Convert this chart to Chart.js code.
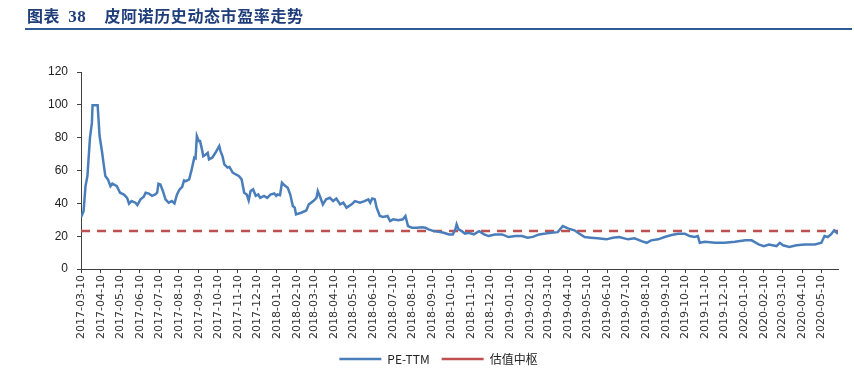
<!DOCTYPE html>
<html>
<head>
<meta charset="utf-8">
<script src="https://cdn.jsdelivr.net/npm/chart.js@4.4.1/dist/chart.umd.min.js"></script>
<style>
  html, body { margin: 0; padding: 0; background: #fff; }
  #wrap { position: relative; width: 854px; height: 380px; }
  #title {
    position: absolute; left: 25px; top: 4px; width: 827px; height: 24px;
    border-bottom: 2px solid #2E5A96;
    font-family: "Noto Sans CJK SC", sans-serif; font-weight: bold; font-size: 16px;
    color: #1F3D7A; line-height: 22px; letter-spacing: 0.6px;
  }
  #title .num { font-family: "Liberation Serif", serif; font-size: 17px; margin-left: 8px; margin-right: 18px; }
  #title span.t { margin-left: 2px; }
  #chart { position: absolute; left: 0; top: 0; }
</style>
</head>
<body>
<div id="wrap">
  <canvas id="chart" width="854" height="380"></canvas>
  <div id="title"><span class="t">图表</span><span class="num">38</span>皮阿诺历史动态市盈率走势</div>
</div>
<script>
// 数据
const baseDate = '2017-03-10';
const peDates = [
  '2017-03-10','2017-03-14','2017-03-17','2017-03-20','2017-03-24','2017-03-27','2017-03-28','2017-04-05',
  '2017-04-08','2017-04-12','2017-04-14','2017-04-17','2017-04-21','2017-04-25','2017-04-28','2017-05-05',
  '2017-05-10','2017-05-16','2017-05-21','2017-05-24','2017-05-28','2017-06-03','2017-06-06','2017-06-11',
  '2017-06-16','2017-06-19','2017-06-24','2017-06-29','2017-07-04','2017-07-07','2017-07-09','2017-07-12',
  '2017-07-16','2017-07-20','2017-07-25','2017-07-30','2017-08-03','2017-08-07','2017-08-11','2017-08-15',
  '2017-08-18','2017-08-21','2017-08-26','2017-08-30','2017-09-03','2017-09-05','2017-09-07','2017-09-10',
  '2017-09-12','2017-09-15','2017-09-17','2017-09-21','2017-09-24','2017-09-26','2017-10-01','2017-10-06',
  '2017-10-12','2017-10-14','2017-10-17','2017-10-20','2017-10-25','2017-10-28','2017-11-02','2017-11-07',
  '2017-11-12','2017-11-16','2017-11-20','2017-11-24','2017-11-27','2017-11-30','2017-12-04','2017-12-08',
  '2017-12-12','2017-12-15','2017-12-21','2017-12-26','2017-12-31','2018-01-06','2018-01-09','2018-01-11',
  '2018-01-15','2018-01-18','2018-01-22','2018-01-27','2018-01-31','2018-02-04','2018-02-07','2018-02-09',
  '2018-02-17','2018-02-25','2018-03-01','2018-03-08','2018-03-13','2018-03-15','2018-03-18','2018-03-23',
  '2018-03-28','2018-04-03','2018-04-08','2018-04-13','2018-04-19','2018-04-24','2018-04-29','2018-05-07',
  '2018-05-12','2018-05-20','2018-05-27','2018-06-02','2018-06-05','2018-06-08','2018-06-12','2018-06-15',
  '2018-06-20','2018-06-25','2018-07-02','2018-07-06','2018-07-11','2018-07-19','2018-07-26','2018-07-30',
  '2018-08-03','2018-08-09','2018-08-17','2018-08-25','2018-08-30','2018-09-04','2018-09-12','2018-09-20',
  '2018-09-28','2018-10-06','2018-10-12','2018-10-16','2018-10-18','2018-10-21','2018-10-26','2018-10-31',
  '2018-11-06','2018-11-14','2018-11-22','2018-11-30','2018-12-07','2018-12-17','2018-12-28','2019-01-07',
  '2019-01-18','2019-01-28','2019-02-06','2019-02-14','2019-02-24','2019-03-06','2019-03-14','2019-03-25',
  '2019-04-02','2019-04-10','2019-04-20','2019-04-28','2019-05-06','2019-05-16','2019-05-26','2019-06-09',
  '2019-06-19','2019-06-29','2019-07-13','2019-07-23','2019-08-03','2019-08-11','2019-08-18','2019-08-29',
  '2019-09-08','2019-09-19','2019-09-29','2019-10-10','2019-10-17','2019-10-25','2019-10-30','2019-11-02',
  '2019-11-10','2019-11-26','2019-12-11','2019-12-27','2020-01-12','2020-01-22','2020-02-02','2020-02-10',
  '2020-02-18','2020-03-01','2020-03-06','2020-03-11','2020-03-21','2020-04-01','2020-04-14','2020-04-30',
  '2020-05-10','2020-05-15','2020-05-20','2020-05-25','2020-05-30','2020-06-05'
];
const peValues = [
  31.5,35.3,50.5,56.6,80,89,99.7,99.7,
  81,71,65,56.6,54.6,50.5,52,50.5,
  46.5,45.4,43.4,39.8,41.4,40.4,39,42.5,
  44,46.5,46,44.6,45.4,46.5,52,51.5,
  47.5,42.5,40.4,41.4,40,45.4,48.5,50,
  54,53.5,54.6,60.7,67.8,67.4,81,78,
  78,72.9,68.8,69.8,70.8,66.8,67.8,70.8,
  74.9,71.8,68.8,63.8,61.8,62.2,58.7,57.6,
  56.6,54.6,46.5,45.4,41.8,47.5,48.5,44.6,
  45.4,43.4,44.6,43.4,45.4,46,44.6,45.4,
  45,52.6,51,49.5,45.4,38.4,37.4,33.3,
  34.3,35.7,39.4,41.4,43.4,47.5,44.6,39.4,
  42.5,43.4,41.4,42.9,39.4,40.4,37.4,39.4,
  41.4,40.4,41.4,42.5,40.4,43,42.5,37.4,
  32.3,31.7,32.3,29.2,30.3,29.7,30.3,32.3,
  26.2,25.2,25.2,25.5,25.2,24.2,23.1,22.7,
  22.1,21.1,21.1,24.2,27.2,24.2,23.1,21.6,
  22.1,21.1,23.1,21.1,20.1,21.1,21.1,19.5,
  20.1,20.1,19.1,19.6,21.1,21.6,22.1,22.5,
  26.2,24.8,23.6,21.5,19.5,19.1,18.7,18.1,
  19.1,19.5,18.1,18.7,17,16,17.5,18.1,
  19.5,20.7,21.5,21.5,20.1,19.5,20.1,16,
  16.6,16,16,16.6,17.5,17.5,15,14,
  15,14,16,14.5,13.4,14.5,15,15,
  16,20.1,19.5,21.1,23.6,21.5
];
const centerValue = 23.2;
const tickLabels = [
  '2017-03-10','2017-04-10','2017-05-10','2017-06-10','2017-07-10','2017-08-10','2017-09-10','2017-10-10',
  '2017-11-10','2017-12-10','2018-01-10','2018-02-10','2018-03-10','2018-04-10','2018-05-10','2018-06-10',
  '2018-07-10','2018-08-10','2018-09-10','2018-10-10','2018-11-10','2018-12-10','2019-01-10','2019-02-10',
  '2019-03-10','2019-04-10','2019-05-10','2019-06-10','2019-07-10','2019-08-10','2019-09-10','2019-10-10',
  '2019-11-10','2019-12-10','2020-01-10','2020-02-10','2020-03-10','2020-04-10','2020-05-10'
];

function dayOffset(d) {
  return (Date.parse(d) - Date.parse(baseDate)) / 86400000;
}

const pePoints = peDates.map((d, i) => ({ x: dayOffset(d), y: peValues[i] }));
const xMax = dayOffset(peDates[peDates.length - 1]);
const tickOffsets = tickLabels.map(dayOffset);
const labelByOffset = {};
tickLabels.forEach((t, i) => { labelByOffset[tickOffsets[i]] = t; });

const ctx = document.getElementById('chart').getContext('2d');
const myChart = new Chart(ctx, {
  type: 'line',
  data: {
    datasets: [{
      label: 'PE-TTM',
      data: pePoints,
      borderColor: '#4A7EBB',
      borderWidth: 2.5,
      pointRadius: 0,
      tension: 0,
      fill: false
    }, {
      label: '估值中枢',
      data: [{ x: 0, y: centerValue }, { x: xMax, y: centerValue }],
      borderColor: '#C0504D',
      borderWidth: 2.5,
      borderDash: [9, 7],
      pointRadius: 0,
      fill: false
    }]
  },
  options: {
    responsive: false,
    animation: false,
    layout: { padding: { top: 72, left: 39, right: 16, bottom: 5 } },
    scales: {
      x: {
        type: 'linear',
        min: 0,
        max: xMax,
        afterBuildTicks(scale) {
          scale.ticks = tickOffsets.map(v => ({ value: v }));
        },
        ticks: {
          autoSkip: false,
          maxRotation: 90,
          minRotation: 90,
          padding: 2,
          color: '#333',
          font: { family: 'DejaVu Sans', size: 11 },
          callback: (v) => labelByOffset[v] || ''
        },
        grid: { display: true, drawOnChartArea: false, tickLength: 4, color: '#404040' },
        border: { color: '#404040', width: 1 }
      },
      y: {
        min: 0,
        max: 120,
        ticks: {
          stepSize: 20,
          padding: 9,
          color: '#222',
          font: { family: 'Liberation Sans', size: 12 }
        },
        grid: { display: true, drawOnChartArea: false, tickLength: 4, color: '#404040' },
        border: { color: '#404040', width: 1 }
      }
    },
    plugins: {
      legend: {
        position: 'bottom',
        labels: {
          usePointStyle: true,
          pointStyle: 'line',
          pointStyleWidth: 42,
          boxHeight: 8,
          padding: 12,
          color: '#222',
          font: { family: 'Noto Sans CJK SC', size: 12 }
        }
      },
      tooltip: { enabled: false }
    }
  }
});
</script>
</body>
</html>
